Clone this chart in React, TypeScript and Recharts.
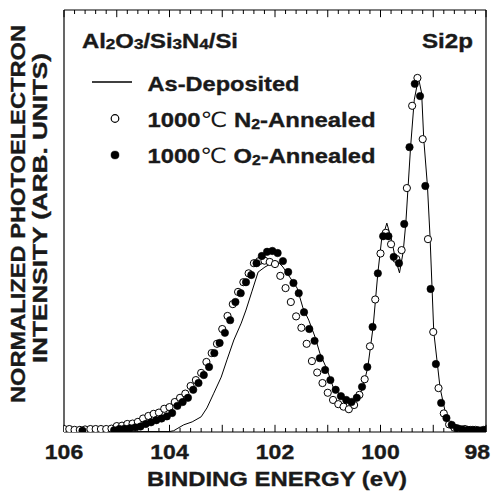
import React from 'react';
import { ComposedChart, Line, Scatter, XAxis, YAxis, ReferenceLine, Customized } from 'recharts';

// ---- Data ----
const asDepEnergy = [106.0, 104.4, 104.0, 103.92, 103.84, 103.73, 103.57, 103.4, 103.29, 103.16, 103.02, 102.91, 102.78, 102.64, 102.55, 102.44, 102.32, 102.19, 102.06, 101.94, 101.85, 101.72, 101.58, 101.47, 101.36, 101.24, 101.15, 101.01, 100.9, 100.77, 100.64, 100.52, 100.41, 100.33, 100.24, 100.14, 100.05, 99.98, 99.93, 99.88, 99.79, 99.72, 99.64, 99.57, 99.52, 99.43, 99.36, 99.28, 99.22, 99.18, 99.11, 99.06, 98.99, 98.87, 98.78, 98.68, 98.59, 98.0];
const asDepIntensity = [0, 0.1, 0.1, 0.3, 0.9, 1.7, 2.4, 3.6, 5.7, 9.2, 13.0, 17.1, 21.8, 25.8, 28.9, 33.2, 37.9, 39.1, 40.0, 40.3, 39.1, 36.7, 34.1, 29.4, 26.5, 22.5, 18.7, 14.7, 10.7, 8.8, 7.6, 7.3, 8.3, 10.7, 15.4, 24.9, 37.7, 45.5, 47.4, 49.5, 45.5, 41.2, 37.7, 42.7, 49.5, 67.5, 78.7, 83.9, 80.3, 69.4, 58.3, 46.0, 23.7, 10.4, 5.2, 0.9, 0.2, 0];

const n2Energy = [106.0, 105.9, 105.8, 105.7, 105.6, 105.5, 105.4, 105.3, 105.2, 105.1, 105.0, 104.9, 104.8, 104.7, 104.6, 104.5, 104.4, 104.3, 104.2, 104.1, 104.0, 103.9, 103.8, 103.7, 103.6, 103.5, 103.4, 103.3, 103.2, 103.1, 103.0, 102.9, 102.8, 102.7, 102.6, 102.5, 102.4, 102.3, 102.2, 102.1, 102.0, 101.9, 101.8, 101.7, 101.6, 101.5, 101.4, 101.3, 101.2, 101.1, 101.0, 100.9, 100.8, 100.7, 100.6, 100.5, 100.4, 100.3, 100.2, 100.1, 100.0, 99.9, 99.8, 99.7, 99.6, 99.5, 99.4, 99.3, 99.2, 99.1, 99.0, 98.9, 98.8, 98.7, 98.6, 98.5, 98.4, 98.3, 98.2, 98.1, 98.0];
const n2Intensity = [0.7, 0.7, 0.5, 0.5, 0.6, 0.7, 0.7, 0.7, 0.7, 0.8, 1.4, 1.5, 1.9, 2.0, 2.4, 3.2, 3.8, 4.3, 4.6, 5.5, 5.9, 7.1, 8.1, 9.1, 10.9, 12.3, 14.0, 16.6, 18.7, 20.9, 24.4, 27.5, 30.3, 33.2, 35.5, 37.6, 40.0, 40.5, 40.6, 40.3, 39.8, 37.0, 34.1, 30.8, 27.4, 24.7, 20.9, 16.8, 14.1, 11.6, 9.3, 7.6, 6.6, 6.0, 5.4, 6.4, 8.8, 12.5, 20.3, 31.4, 42.3, 47.2, 44.5, 41.0, 43.1, 57.8, 77.3, 83.9, 69.4, 45.7, 23.7, 10.4, 4.4, 1.8, 1.0, 0.7, 0.7, 0.5, 0.5, 0.3, 0.5];

const o2Energy = [105.65, 105.05, 104.95, 104.85, 104.75, 104.65, 104.55, 104.45, 104.35, 104.25, 104.15, 104.05, 103.95, 103.85, 103.75, 103.65, 103.55, 103.45, 103.35, 103.25, 103.15, 103.05, 102.95, 102.85, 102.75, 102.65, 102.55, 102.45, 102.35, 102.25, 102.15, 102.05, 101.95, 101.85, 101.75, 101.65, 101.55, 101.45, 101.35, 101.25, 101.15, 101.05, 100.95, 100.85, 100.75, 100.65, 100.55, 100.45, 100.35, 100.25, 100.15, 100.05, 99.95, 99.85, 99.75, 99.65, 99.55, 99.45, 99.35, 99.25, 99.15, 99.05, 98.95, 98.85, 98.75, 98.65, 98.55, 98.45, 98.35, 98.25, 98.15, 98.05];
const o2Intensity = [0.3, 0.4, 0.7, 0.8, 0.9, 1.1, 1.3, 1.9, 2.3, 2.8, 3.2, 3.7, 4.5, 6.2, 7.1, 8.1, 10.0, 11.6, 13.5, 15.4, 18.7, 21.1, 23.5, 26.5, 30.8, 32.9, 35.5, 37.2, 40.0, 41.7, 42.7, 42.9, 42.4, 40.5, 37.9, 35.3, 32.9, 28.4, 24.4, 21.6, 17.5, 14.7, 12.3, 10.0, 8.5, 7.6, 7.1, 8.1, 10.7, 15.4, 24.9, 37.6, 46.4, 46.4, 41.5, 40.0, 49.3, 67.5, 82.5, 79.6, 58.3, 33.9, 16.1, 6.9, 3.3, 1.7, 0.9, 0.6, 0.5, 0.5, 0.4, 0.5];

const xTickLabels = [106, 104, 102, 100, 98];
const xDomain: [number, number] = [98, 106];
const yDomain: [number, number] = [0, 100];

const W = 492;
const H = 495;
const FONT = '"Liberation Sans", Arial, Helvetica, sans-serif';
const INK = '#1a1a1a';

const toPoints = (es: number[], vs: number[]) => es.map((e, i) => ({ e, v: vs[i] }));
const asDep = toPoints(asDepEnergy, asDepIntensity);
const n2 = toPoints(n2Energy, n2Intensity);
const o2 = toPoints(o2Energy, o2Intensity);

// frame ticks every 0.2 eV, longer every 1 eV
const frameTicks: { x: number; major: boolean }[] = [];
for (let i = 0; i <= 40; i++) {
  const x = Math.round((98 + i * 0.2) * 10) / 10;
  frameTicks.push({ x, major: i % 5 === 0 });
}

const OpenDot = (p: any) =>
  p.cx == null ? null : <circle cx={p.cx} cy={p.cy} r={3.6} fill="#fff" stroke="#000" strokeWidth={1} />;
const FilledDot = (p: any) =>
  p.cx == null ? null : <circle cx={p.cx} cy={p.cy} r={3.7} fill="#000" stroke="#000" strokeWidth={0.6} />;

const TickLabel = (props: any) => {
  const { x, y, payload } = props;
  const label = String(payload.value);
  const w = label.length * 12.8;
  let cx = x;
  if (cx + w / 2 > W - 2) cx = W - 2 - w / 2;
  return (
    <text x={cx} y={y + 27} textAnchor="middle" fontFamily={FONT} fontWeight="bold" fontSize={20} fill={INK}
      stroke={INK} strokeWidth={0.35} textLength={w} lengthAdjust="spacingAndGlyphs">{label}</text>
  );
};

const Sub = ({ children }: { children: React.ReactNode }) => (
  <tspan fontSize={14} dy={1.5}>{children}</tspan>
);
const Up = ({ children }: { children: React.ReactNode }) => (
  <tspan dy={-1.5}>{children}</tspan>
);

const Overlay = () => (
  <g fontFamily={FONT} fontWeight="bold" fill={INK} stroke={INK} strokeWidth={0.35}>
    {/* y-axis title */}
    <text x={25} y={214} transform="rotate(-90 25 214)" textAnchor="middle" fontSize={21}
      textLength={378} lengthAdjust="spacingAndGlyphs">NORMALIZED PHOTOELECTRON</text>
    <text x={46.5} y={208} transform="rotate(-90 46.5 208)" textAnchor="middle" fontSize={21}
      textLength={310} lengthAdjust="spacingAndGlyphs">INTENSITY (ARB. UNITS)</text>
    {/* x-axis title */}
    <text x={277} y={486} textAnchor="middle" fontSize={21} textLength={260} lengthAdjust="spacingAndGlyphs">
      BINDING ENERGY (eV)</text>
    {/* sample label */}
    <text x={82} y={47.5} fontSize={19.5} textLength={156} lengthAdjust="spacingAndGlyphs">
      Al<Sub>2</Sub><Up>O</Up><Sub>3</Sub><Up>/Si</Up><Sub>3</Sub><Up>N</Up><Sub>4</Sub><Up>/Si</Up>
    </text>
    <text x={422} y={47.5} fontSize={19.5} textLength={51} lengthAdjust="spacingAndGlyphs">Si2p</text>
    {/* legend */}
    <line x1={92} x2={132} y1={82} y2={82} stroke="#000" strokeWidth={1.4} />
    <text x={147.5} y={91} fontSize={21} textLength={152} lengthAdjust="spacingAndGlyphs">As-Deposited</text>
    <circle cx={115} cy={118.5} r={3.8} fill="#fff" stroke="#000" strokeWidth={1.2} />
    <text x={147.5} y={127} fontSize={21} textLength={228} lengthAdjust="spacingAndGlyphs">
      1000<tspan fontWeight="normal" fontFamily="DejaVu Sans" strokeWidth={0}>℃</tspan> N<Sub>2</Sub><Up>-Annealed</Up>
    </text>
    <circle cx={115} cy={155} r={4.1} fill="#000" />
    <text x={147.5} y={163} fontSize={21} textLength={228} lengthAdjust="spacingAndGlyphs">
      1000<tspan fontWeight="normal" fontFamily="DejaVu Sans" strokeWidth={0}>℃</tspan> O<Sub>2</Sub><Up>-Annealed</Up>
    </text>
  </g>
);

export default function App() {
  return (
    <div style={{ position: 'absolute', left: 0, top: 0, width: W, height: H, background: '#fff' }}>
      <ComposedChart width={W} height={H} margin={{ top: 10, right: 6, bottom: 33, left: 64 }}>
        <XAxis dataKey="e" type="number" domain={xDomain} reversed allowDataOverflow ticks={xTickLabels}
          tickLine={false} tickSize={0} tickMargin={0} height={30} axisLine={{ stroke: '#000', strokeWidth: 1.2 }}
          tick={<TickLabel />} interval={0} />
        <YAxis dataKey="v" type="number" domain={yDomain} allowDataOverflow hide />
        <ReferenceLine x={106} stroke="#000" strokeWidth={1.2} />
        <ReferenceLine x={98} stroke="#000" strokeWidth={1.2} />
        <ReferenceLine y={100} stroke="#000" strokeWidth={1.2} />
        {frameTicks.map((t) => (
          <ReferenceLine key={'b' + t.x} segment={[{ x: t.x, y: 0 }, { x: t.x, y: t.major ? 1.7 : 0.95 }]}
            stroke="#000" strokeWidth={1} />
        ))}
        {frameTicks.map((t) => (
          <ReferenceLine key={'t' + t.x} segment={[{ x: t.x, y: 100 }, { x: t.x, y: t.major ? 98.3 : 99.05 }]}
            stroke="#000" strokeWidth={1} />
        ))}
        <Line data={asDep} dataKey="v" type="linear" stroke="#000" strokeWidth={1} dot={false}
          isAnimationActive={false} />
        <Scatter data={n2} dataKey="v" shape={OpenDot} isAnimationActive={false} />
        <Scatter data={o2} dataKey="v" shape={FilledDot} isAnimationActive={false} />
        <Customized component={Overlay} />
      </ComposedChart>
    </div>
  );
}
